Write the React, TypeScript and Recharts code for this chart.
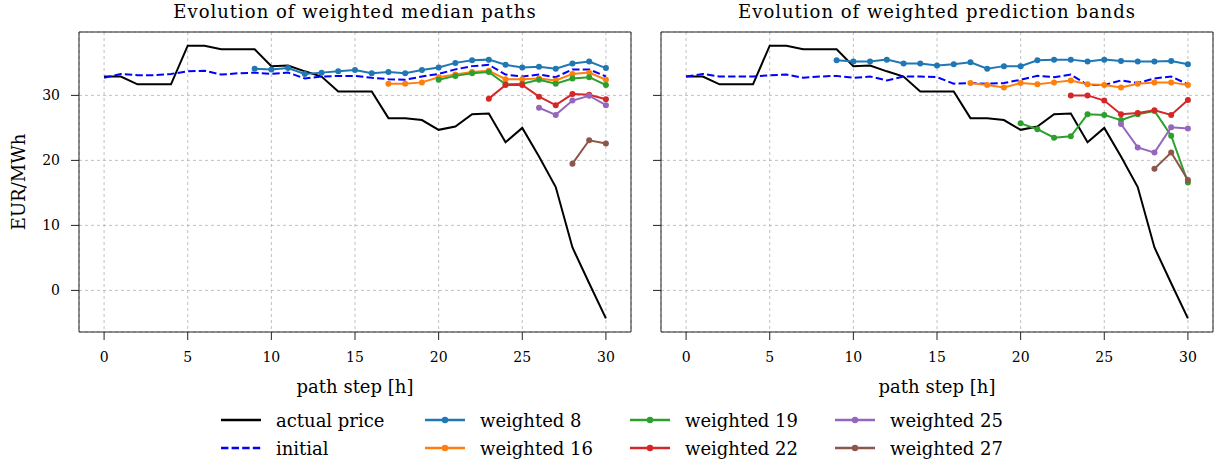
import { LineChart, Line, XAxis, YAxis, CartesianGrid, ReferenceArea, Label } from "recharts"

const steps = [0, 1, 2, 3, 4, 5, 6, 7, 8, 9, 10, 11, 12, 13, 14, 15, 16, 17, 18, 19, 20, 21, 22, 23, 24, 25, 26, 27, 28, 29, 30]
const xTicks = [0, 5, 10, 15, 20, 25, 30]
const yTicks = [0, 10, 20, 30]

const actualPrice = [
  32.9, 32.9, 31.7, 31.7, 31.7, 37.65, 37.65, 37.1, 37.1, 37.1, 34.5, 34.6, 33.7, 32.9, 30.6, 30.6,
  30.6, 26.5, 26.5, 26.2, 24.7, 25.2, 27.1, 27.2, 22.8, 25.0, 20.6, 15.9, 6.6, 1.1, -4.3,
]

// left panel: weighted median paths
const initialMedian = [
  32.7, 33.3, 33.1, 33.1, 33.3, 33.7, 33.8, 33.2, 33.4, 33.5, 33.3, 33.5, 32.6, 32.9, 33.0, 33.0,
  32.7, 32.5, 32.4, 32.9, 33.3, 34.0, 34.5, 34.7, 33.2, 32.9, 33.2, 32.8, 34.0, 34.0, 32.9,
]
const medianW8 = [34.1, 34.0, 34.2, 33.3, 33.5, 33.7, 33.9, 33.4, 33.6, 33.4, 33.9, 34.3, 35.0, 35.4, 35.5, 34.7, 34.3, 34.4, 34.1, 34.9, 35.2, 34.2]
const medianW16 = [31.8, 31.8, 32.0, 32.8, 33.2, 33.6, 33.8, 32.5, 32.5, 32.6, 32.3, 33.3, 33.5, 32.4]
const medianW19 = [32.4, 33.0, 33.4, 33.6, 31.7, 31.8, 32.4, 31.8, 32.6, 32.8, 31.6]
const medianW22 = [29.5, 31.6, 31.6, 29.8, 28.5, 30.2, 30.1, 29.4]
const medianW25 = [28.1, 27.0, 29.2, 29.95, 28.5]
const medianW27 = [19.5, 23.1, 22.6]

// right panel: weighted prediction bands
const initialBand = [
  32.9, 33.3, 32.9, 32.9, 32.9, 33.1, 33.2, 32.7, 32.9, 33.0, 32.7, 32.9, 32.3, 32.9, 32.9, 32.8,
  31.8, 31.9, 31.8, 31.9, 32.4, 33.0, 32.8, 33.2, 31.6, 31.6, 32.3, 31.9, 32.6, 32.9, 31.7,
]
const bandW8 = [35.4, 35.2, 35.2, 35.5, 34.9, 34.9, 34.6, 34.8, 35.1, 34.1, 34.5, 34.5, 35.4, 35.5, 35.5, 35.2, 35.5, 35.3, 35.2, 35.2, 35.3, 34.8]
const bandW16 = [31.9, 31.6, 31.2, 31.9, 31.7, 32.0, 32.3, 31.7, 31.6, 31.2, 31.8, 32.0, 32.0, 31.6]
const bandW19 = [25.7, 24.8, 23.5, 23.7, 27.1, 27.0, 26.2, 27.1, 27.6, 23.8, 16.6]
const bandW22 = [30.0, 30.0, 29.2, 27.1, 27.3, 27.7, 27.0, 29.3]
const bandW25 = [25.6, 22.0, 21.2, 25.1, 24.9]
const bandW27 = [18.7, 21.2, 17.0]

const weightedNames = ["weighted 8", "weighted 16", "weighted 19", "weighted 22", "weighted 25", "weighted 27"]
const weightedStarts = [9, 17, 20, 23, 26, 28]
const weightedColors = ["#1f77b4", "#ff7f0e", "#2ca02c", "#d62728", "#9467bd", "#8c564b"]

const FONT = "'DejaVu Serif', serif"

function buildRows(initial: number[], weighted: number[][]) {
  return steps.map((s, i) => {
    const row: Record<string, number | null> = { step: s, actual: actualPrice[i], initial: initial[i] }
    weighted.forEach((vals, k) => {
      const j = i - weightedStarts[k]
      row["w" + k] = j >= 0 && j < vals.length ? vals[j] : null
    })
    return row
  })
}

const medianRows = buildRows(initialMedian, [medianW8, medianW16, medianW19, medianW22, medianW25, medianW27])
const bandRows = buildRows(initialBand, [bandW8, bandW16, bandW19, bandW22, bandW25, bandW27])

const X_DOMAIN: [number, number] = [-1.5, 31.5]
const Y_DOMAIN: [number, number] = [-6.4, 39.75]

function Panel({ rows, yWidth, showYLabels }: { rows: Record<string, number | null>[]; yWidth: number; showYLabels: boolean }) {
  return (
    <LineChart width={yWidth + 552 + 10} height={400} data={rows} margin={{ top: 32, right: 10, left: 0, bottom: 6 }}>
      <CartesianGrid stroke="#b0b0b0" strokeDasharray="3 3" strokeWidth={0.8} />
      <XAxis
        dataKey="step"
        type="number"
        domain={X_DOMAIN}
        ticks={xTicks}
        height={62}
        tickSize={8}
        tickMargin={12}
        tickLine={{ stroke: "#222" }}
        axisLine={false}
        tick={{ fill: "#000", fontSize: 14, fontFamily: FONT }}
        allowDataOverflow
      >
        <Label value="path step [h]" position="insideBottom" offset={1} style={{ fill: "#000", fontSize: 18, fontFamily: FONT }} />
      </XAxis>
      <YAxis
        type="number"
        domain={Y_DOMAIN}
        ticks={yTicks}
        width={yWidth}
        tickSize={8}
        tickMargin={11}
        tickLine={{ stroke: "#222" }}
        axisLine={false}
        tick={{ fill: "#000", fontSize: 14, fontFamily: FONT }}
        tickFormatter={showYLabels ? undefined : () => ""}
        allowDataOverflow
      >
        {showYLabels && (
          <Label value="EUR/MWh" angle={-90} position="insideLeft" offset={19} style={{ fill: "#000", fontSize: 18, fontFamily: FONT, textAnchor: "middle" }} />
        )}
      </YAxis>
      <ReferenceArea x1={X_DOMAIN[0]} x2={X_DOMAIN[1]} y1={Y_DOMAIN[0]} y2={Y_DOMAIN[1]} fill="none" stroke="#222" strokeWidth={1} />
      <Line dataKey="actual" stroke="#000" strokeWidth={2} dot={false} isAnimationActive={false} />
      <Line dataKey="initial" stroke="#0000ff" strokeWidth={2} strokeDasharray="7.4 3.2" dot={false} isAnimationActive={false} />
      {weightedColors.map((c, k) => (
        <Line
          key={k}
          dataKey={"w" + k}
          stroke={c}
          strokeWidth={2}
          dot={{ r: 3, fill: c, stroke: c, strokeWidth: 0 }}
          isAnimationActive={false}
        />
      ))}
    </LineChart>
  )
}

function LegendItem({ label, color, dashed, dot, left, top }: { label: string; color: string; dashed?: boolean; dot?: boolean; left: number; top: number }) {
  return (
    <div style={{ position: "absolute", left, top: top - 12, height: 24, display: "flex", alignItems: "center", fontFamily: FONT, fontSize: 18, whiteSpace: "nowrap" }}>
      <svg width={40} height={12} style={{ marginRight: 15 }}>
        <line x1={0} y1={6} x2={40} y2={6} stroke={color} strokeWidth={2.5} strokeDasharray={dashed ? "7.4 3.2" : undefined} />
        {dot && <circle cx={20} cy={6} r={3.2} fill={color} />}
      </svg>
      <span>{label}</span>
    </div>
  )
}

const titleStyle = {
  position: "absolute" as const,
  top: 0,
  height: 24,
  lineHeight: "24px",
  width: 552,
  textAlign: "center" as const,
  fontFamily: FONT,
  fontSize: 18,
  letterSpacing: 1,
  zIndex: 2,
  whiteSpace: "nowrap" as const,
}

export default function App() {
  const cols = [221, 425, 630, 835]
  return (
    <div style={{ position: "absolute", left: 0, top: 0, width: 1223, height: 465, background: "#fff", overflow: "hidden" }}>
      <div style={{ position: "absolute", left: 0, top: 0 }}>
        <Panel rows={medianRows} yWidth={79} showYLabels={true} />
      </div>
      <div style={{ position: "absolute", left: 621, top: 0 }}>
        <Panel rows={bandRows} yWidth={40} showYLabels={false} />
      </div>
      <div style={{ ...titleStyle, left: 79 }}>Evolution of weighted median paths</div>
      <div style={{ ...titleStyle, left: 661 }}>Evolution of weighted prediction bands</div>
      <LegendItem label="actual price" color="#000" left={cols[0]} top={420} />
      <LegendItem label="initial" color="#0000ff" dashed left={cols[0]} top={448} />
      {weightedNames.map((n, k) => (
        <LegendItem key={n} label={n} color={weightedColors[k]} dot left={cols[1 + Math.floor(k / 2)]} top={k % 2 === 0 ? 420 : 448} />
      ))}
    </div>
  )
}
